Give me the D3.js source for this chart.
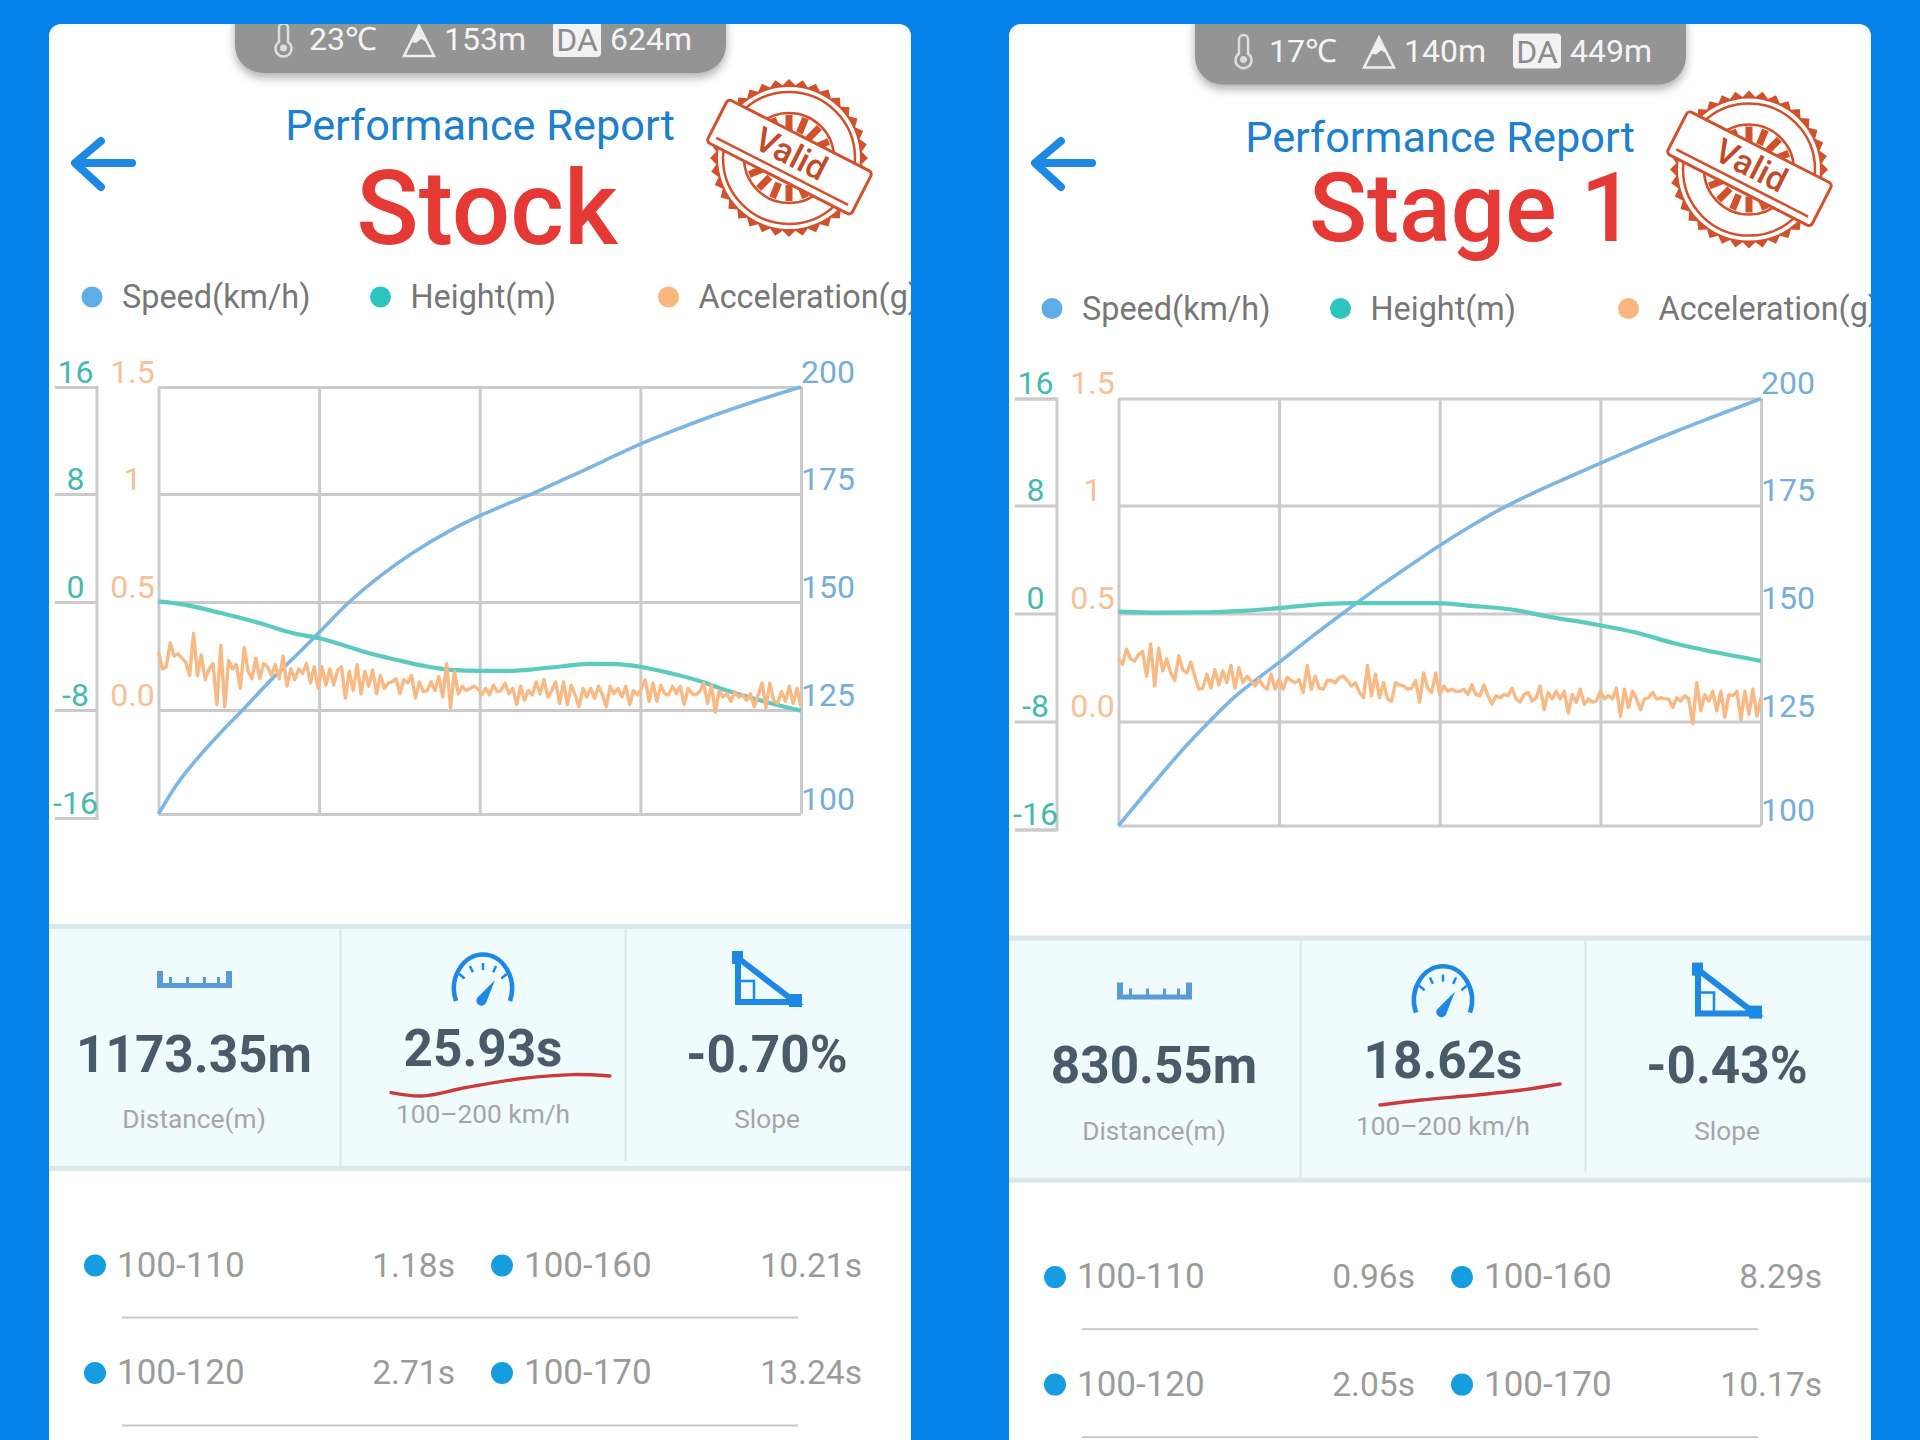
<!DOCTYPE html>
<html>
<head>
<meta charset="utf-8">
<script src="https://cdn.jsdelivr.net/npm/d3@7"></script>
<style>
  html, body { margin: 0; padding: 0; background: #0582ea; }
  svg { display: block; }
  text { font-family: Roboto, sans-serif; }
</style>
</head>
<body>
<script>
// tick values shared by both charts
var gridX = [0, 25, 50, 75, 100]
var speedTicks = [100, 125, 150, 175, 200]
var heightTicks = [-16, -8, 0, 8, 16]
var accelTicks = [0, 0.5, 1, 1.5]
var accelLabels = ['0.0', '0.5', '1', '1.5']
var legendNames = ['Speed(km/h)', 'Height(m)', 'Acceleration(g)']
var splitNames = ['100-110', '100-160', '100-120', '100-170']
var statNames = ['Distance(m)', '100–200 km/h', 'Slope']

// Stock run
var stockSpeedX = [0, 2.9, 6.3, 9.7, 13.1, 17.4, 21.7, 24.9, 29.4, 34.5, 39.6, 45.6, 49.8, 54.1, 58.4, 63.5, 68.6, 74.7, 80.5, 86.5, 92.5, 100]
var stockSpeed = [100, 107.2, 113.8, 119.6, 125, 131.8, 138, 142.8, 149.6, 156, 161.4, 166.7, 169.8, 172.6, 175.2, 178.7, 182.2, 186.5, 190, 193.4, 196.5, 200]
var stockHeightX = [0, 4.6, 9.7, 15.7, 20.8, 24.9, 29.4, 32.8, 37, 41.3, 45.6, 49.8, 54.1, 58.4, 62.6, 66.9, 71.2, 74.7, 79.7, 84, 88.2, 92.5, 95.9, 100]
var stockHeight = [0.05, -0.25, -0.82, -1.56, -2.3, -2.67, -3.3, -3.8, -4.28, -4.73, -5.03, -5.1, -5.1, -4.98, -4.78, -4.58, -4.6, -4.78, -5.28, -5.82, -6.51, -7.13, -7.58, -8.05]
var stockAccel = [
  .27, .19, .20, .31, .25, .26, .24, .22, .16, .355, .16, .255, .14, .19, .215, .025, .30, .015, .23, .19, .21,
  .10, .29, .18, .145, .24, .145, .215, .20, .16, .21, .145, .25, .11, .19, .14, .19, .17, .215, .125, .20, .10,
  .20, .115, .19, .115, .185, .20, .055, .18, .09, .21, .075, .18, .11, .185, .075, .16, .10, .125, .13, .145,
  .075, .14, .125, .16, .055, .13, .085, .09, .13, .09, .155, .06, .215, .01, .18, .075, .11, .09, .10, .11, .10, .07,
  .10, .07, .115, .085, .09, .125, .075, .10, .025, .11, .045, .09, .07, .13, .075, .14, .06, .09, .13, .03, .13,
  .025, .115, .07, .015, .10, .06, .10, .055, .11, .07, .015, .11, .075, .10, .06, .11, .025, .09, .07, .10,
  .14, .04, .125, .04, .115, .075, .07, .11, .075, .11, .025, .10, .075, .07, .085, .125, .03, .115, -.01, .09,
  .06, .075, .04, .085, .06, .07, .045, .075, .015, .07, .125, .01, .125, .045, .03, .085, .04, .11, .03, .10, .015
]
var stockStats = ['1173.35m', '25.93s', '-0.70%']
var stockSplits = ['1.18s', '10.21s', '2.71s', '13.24s']
var stockWeather = ['23℃', '153m', '624m']

// Stage 1 run
var stageSpeedX = [0, 3.75, 7.2, 10.6, 14, 18.3, 21.7, 24.9, 30.2, 35.3, 41.3, 46.4, 49.8, 55, 60, 65.2, 70.3, 74.7, 80.5, 86.5, 92.5, 100]
var stageSpeed = [100, 107, 113.3, 119.3, 124.8, 131, 135, 138.6, 144.8, 150.5, 157, 162.2, 165.6, 170.4, 174.6, 178.4, 181.8, 184.7, 188.5, 192.2, 195.7, 200]
var stageHeightX = [0, 6.3, 14, 20, 24.9, 30.2, 36.2, 43, 49.8, 55, 60.9, 66.9, 74.7, 80.5, 86.5, 92.5, 100]
var stageHeight = [0.15, 0.07, 0.1, 0.22, 0.4, 0.65, 0.77, 0.77, 0.77, 0.57, 0.32, -0.22, -0.84, -1.4, -2.2, -2.83, -3.5]
var stageAccel = [
  .29, .265, .335, .29, .28, .31, .325, .21, .36, .165, .34, .235, .29, .225, .19, .305, .24, .225, .275, .21, .15,
  .155, .22, .155, .24, .17, .235, .18, .26, .155, .25, .18, .21, .19, .165, .195, .165,
  .15, .22, .15, .195, .15, .205, .19, .18, .195, .135, .26, .15, .21, .155, .15, .19, .19, .18, .205, .21, .19,
  .165, .18, .135, .11, .26, .12, .22, .11, .18, .105, .095, .18, .17, .165, .15, .155, .19, .09, .225, .155, .135,
  .225, .125, .165, .14, .15, .14, .14, .15, .125, .17, .125, .12, .17, .12, .08, .12, .11, .125, .12, .155, .105,
  .09, .125, .135, .095, .11, .165, .055, .135, .105, .14, .105, .14, .04, .125, .09, .15, .08, .105, .09, .095,
  .14, .105, .12, .105, .155, .025, .15, .065, .14, .105, .055, .105, .11, .135, .105, .11, .105, .105, .065, .11,
  .095, .12, .105, -.01, .18, .05, .125, .095, .14, .05, .14, .02, .125, .12, .14, .01, .14, .035, .15, .025, .11
]
var stageStats = ['830.55m', '18.62s', '-0.43%']
var stageSplits = ['0.96s', '8.29s', '2.05s', '10.17s']
var stageWeather = ['17℃', '140m', '449m']

var BLUE = '#1e88e5'
var speedColor = '#7db5e3'
var heightColor = '#5ccabf'
var accelColor = '#f9b985'
var gridColor = '#cbcbcb'

var svg = d3.select('body')
            .append('svg')
            .attr('width', 1920)
            .attr('height', 1440)

svg.append('rect').attr('width', 1920).attr('height', 1440).attr('fill', '#0582ea')

// plot area is the same in both panels, the second one sits lower and to the right
var left = 158.5
var right = 801

var x = d3.scaleLinear().domain([0, 100]).range([left, right])
var speedY = d3.scaleLinear().domain(speedTicks).range([814, 710, 602, 494, 387])
var heightY = d3.scaleLinear().domain(heightTicks).range([818, 710, 602, 494, 387])
var accelY = d3.scaleLinear().domain(accelTicks).range([710, 602, 494, 387])

function styleAxisText (sel, color, tx, anchor) {
  sel.selectAll('text')
    .attr('x', tx)
    .attr('dy', -5)
    .attr('fill', color)
    .attr('text-anchor', anchor)
    .style('font-size', '32px')
    .style('font-family', 'Roboto, sans-serif')
}

function drawChart (g, run) {
  // grid
  g.append('g')
    .attr('transform', 'translate(0,814)')
    .call(d3.axisBottom(x).tickValues(gridX).tickSize(-427).tickFormat(''))
    .call(function (a) {
      a.selectAll('line, path').attr('stroke', gridColor).attr('stroke-width', 3)
      a.select('.domain').attr('stroke', 'none')
    })

  g.append('g')
    .attr('transform', 'translate(' + left + ',0)')
    .call(d3.axisLeft(speedY).tickValues(speedTicks).tickSize(left - right).tickFormat(''))
    .call(function (a) {
      a.selectAll('line').attr('stroke', gridColor).attr('stroke-width', 3)
      a.select('.domain').attr('stroke', 'none')
    })

  // height axis, far left with its own little ticks
  g.append('g')
    .attr('transform', 'translate(96.5,0)')
    .call(d3.axisLeft(heightY).tickValues(heightTicks).tickSize(41.5).tickPadding(0).tickFormat(function (d) { return d }))
    .call(function (a) {
      a.selectAll('line').attr('stroke', gridColor).attr('stroke-width', 3)
      a.select('.domain').attr('stroke', gridColor).attr('stroke-width', 3)
      styleAxisText(a, '#45b9ae', -21, 'middle')
    })

  g.append('g')
    .attr('transform', 'translate(' + left + ',0)')
    .call(d3.axisLeft(accelY).tickValues(accelTicks).tickSize(0).tickFormat(function (d, i) { return accelLabels[i] }))
    .call(function (a) {
      a.select('.domain').attr('stroke', 'none')
      styleAxisText(a, '#f6c195', -26, 'middle')
    })

  g.append('g')
    .attr('transform', 'translate(' + right + ',0)')
    .call(d3.axisRight(speedY).tickValues(speedTicks).tickSize(0))
    .call(function (a) {
      a.select('.domain').attr('stroke', 'none')
      styleAxisText(a, '#74aedb', 0, 'start')
    })

  // lines
  var speedLine = d3.line()
    .x(function (d, i) { return x(run.speedX[i]) })
    .y(function (d) { return speedY(d) })
    .curve(d3.curveMonotoneX)

  var heightLine = d3.line()
    .x(function (d, i) { return x(run.heightX[i]) })
    .y(function (d) { return heightY(d) })
    .curve(d3.curveMonotoneX)

  var accelX = d3.scaleLinear().domain([0, run.accel.length - 1]).range([left, right])
  var accelLine = d3.line()
    .x(function (d, i) { return accelX(i) })
    .y(function (d) { return accelY(d) })

  g.append('path').attr('d', speedLine(run.speed)).attr('fill', 'none').attr('stroke', speedColor).attr('stroke-width', 3.6)
  g.append('path').attr('d', heightLine(run.height)).attr('fill', 'none').attr('stroke', heightColor).attr('stroke-width', 4.2)
  g.append('path').attr('d', accelLine(run.accel)).attr('fill', 'none').attr('stroke', accelColor).attr('stroke-width', 3.4).attr('stroke-linejoin', 'round')
}

function drawStamp (g) {
  var c = '#d2512d'
  var s = g.append('g').attr('transform', 'translate(789,158)')
  // toothed edge
  var teeth = d3.range(0, 72).map(function (i) {
    return [i * Math.PI / 36, i % 2 ? 73 : 79]
  })
  s.append('path')
    .attr('d', d3.lineRadial().curve(d3.curveLinearClosed)(teeth))
    .attr('fill', c)
  s.append('circle').attr('r', 71).attr('fill', '#fff')
  s.append('circle').attr('r', 66).attr('fill', 'none').attr('stroke', c).attr('stroke-width', 2.5)
  s.append('circle').attr('r', 45).attr('fill', 'none').attr('stroke', c).attr('stroke-width', 2.5)
  // spokes inside the inner ring
  d3.range(0, 16).forEach(function (i) {
    var a = i * Math.PI / 8
    s.append('line')
      .attr('x1', Math.cos(a) * 27).attr('y1', Math.sin(a) * 27)
      .attr('x2', Math.cos(a) * 43).attr('y2', Math.sin(a) * 43)
      .attr('stroke', c).attr('stroke-width', 7)
  })
  var band = s.append('g').attr('transform', 'rotate(27)')
  band.append('rect')
    .attr('x', -81).attr('y', -25).attr('width', 162).attr('height', 48).attr('rx', 4)
    .attr('fill', '#fff').attr('stroke', c).attr('stroke-width', 3)
  band.append('line').attr('x1', -74).attr('x2', 74).attr('y1', 15).attr('y2', 15).attr('stroke', c).attr('stroke-width', 2.5)
  band.append('text')
    .attr('text-anchor', 'middle').attr('y', 7)
    .attr('fill', '#c14a2a')
    .style('font-size', '34px').style('font-weight', 500)
    .text('Valid')
}

function drawHeader (g, run) {
  // weather pill
  var pill = g.append('g')
  pill.append('rect')
    .attr('x', 235).attr('y', -20).attr('width', 491).attr('height', 93).attr('rx', 28)
    .attr('fill', '#949494')
    .style('filter', 'drop-shadow(0 5px 5px rgba(0,0,0,0.3))')

  // thermometer
  pill.append('path')
    .attr('d', 'M279 28 a4.5 4.5 0 0 1 9 0 v14 a8 8 0 1 1 -9 0 z')
    .attr('fill', 'none').attr('stroke', '#ddd').attr('stroke-width', 2.5)
  pill.append('circle').attr('cx', 283.5).attr('cy', 48).attr('r', 3.5).attr('fill', '#ddd')
  // mountain
  pill.append('path')
    .attr('d', 'M419 26 L434 56 H404 Z')
    .attr('fill', 'none').attr('stroke', '#eee').attr('stroke-width', 2.5)
  pill.append('path').attr('d', 'M419 26 L427 42 L421 39 L416 43 L411 42 Z').attr('fill', '#eee')
  pill.append('rect').attr('x', 553).attr('y', 22).attr('width', 48).attr('height', 35).attr('rx', 4).attr('fill', '#f2f2f2')
  pill.append('text').attr('x', 577).attr('y', 51).attr('text-anchor', 'middle').attr('fill', '#8d8d8d').style('font-size', '32px').text('DA')

  var weatherX = [309, 444, 610]
  pill.selectAll('.weather')
    .data(run.weather)
    .enter()
    .append('text')
    .classed('weather', true)
    .attr('x', function (d, i) { return weatherX[i] })
    .attr('y', 50)
    .attr('fill', '#f4f4f4')
    .style('font-size', '32px')
    .text(function (d) { return d })

  // back arrow, this one does not move with the rest of the panel
  g.append('path')
    .attr('transform', 'translate(0,' + (-run.dy) + ')')
    .attr('d', 'M132 163 H76 M101 141 L75 163 L101 187')
    .attr('fill', 'none').attr('stroke', BLUE).attr('stroke-width', 8).attr('stroke-linecap', 'round').attr('stroke-linejoin', 'round')

  g.append('text')
    .attr('x', 480).attr('y', 140)
    .attr('text-anchor', 'middle')
    .attr('fill', '#1c80cf')
    .style('font-size', '43.3px')
    .text('Performance Report')

  g.append('text')
    .attr('x', run.titleX).attr('y', run.titleY)
    .attr('text-anchor', 'middle')
    .attr('fill', '#e53935')
    .style('font-size', run.titleSize + 'px')
    .style('font-weight', 500)
    .text(run.title)

  drawStamp(g)

  // legend
  var legendDot = [92, 380.5, 668.5]
  var legendColor = ['#5dade9', '#2ec4c0', '#f9b77f']
  legendNames.forEach(function (name, i) {
    g.append('circle').attr('cx', legendDot[i]).attr('cy', 297).attr('r', 10.5).attr('fill', legendColor[i])
    g.append('text')
      .attr('x', legendDot[i] + 30).attr('y', 308)
      .attr('fill', '#777')
      .style('font-size', '32.4px')
      .text(name)
  })
}

function drawStats (g, run) {
  g.append('rect').attr('x', 40).attr('y', 924).attr('width', 880).attr('height', 245).attr('fill', '#effbfd')
  g.append('rect').attr('x', 40).attr('y', 924).attr('width', 880).attr('height', 5).attr('fill', '#dbe7e8')
  g.append('rect').attr('x', 40).attr('y', 1166).attr('width', 880).attr('height', 5).attr('fill', '#dbe7e8')
  g.append('rect').attr('x', 339.5).attr('y', 929).attr('width', 2).attr('height', 237).attr('fill', '#dbe7e8')
  g.append('rect').attr('x', 624.5).attr('y', 929).attr('width', 2).attr('height', 232).attr('fill', '#dbe7e8')

  var statX = [194, 483, 767]
  var valueY = [1071.5, 1066, 1071.5]
  var labelY = [1128, 1123, 1128]
  run.stats.forEach(function (v, i) {
    g.append('text')
      .attr('x', statX[i]).attr('y', valueY[i])
      .attr('text-anchor', 'middle')
      .attr('fill', '#4b5a69')
      .style('font-size', '51.3px').style('font-weight', 700)
      .text(v)
    g.append('text')
      .attr('x', statX[i]).attr('y', labelY[i])
      .attr('text-anchor', 'middle')
      .attr('fill', '#a6a6a6')
      .style('font-size', '26.3px')
      .text(statNames[i])
  })

  // ruler
  g.append('path')
    .attr('d', 'M157 971 h6 v12 h6 v-6 h3 v6 h14 v-6 h3 v6 h14 v-6 h3 v6 h11 v-6 h3 v6 h6 v-12 h6 v17 h-75 z')
    .attr('fill', '#5b9bd5')

  // gauge
  g.append('path')
    .attr('d', 'M456 1001 A29 34 0 1 1 510 1001')
    .attr('fill', 'none').attr('stroke', BLUE).attr('stroke-width', 4.5)
  g.selectAll('.gauge-tick')
    .data([-50, -25, 0, 25, 50])
    .enter()
    .append('line')
    .classed('gauge-tick', true)
    .attr('transform', function (d) { return 'translate(483,994) rotate(' + d + ')' })
    .attr('y1', -31).attr('y2', -24)
    .attr('stroke', BLUE).attr('stroke-width', 2.5)
  g.append('path').attr('d', 'M477 998 L495 980 L486 1003 A5 5 0 0 1 477 998 Z').attr('fill', BLUE)

  // slope
  g.append('path')
    .attr('d', 'M738 958 V1002 H795 Z')
    .attr('fill', 'none').attr('stroke', BLUE).attr('stroke-width', 6).attr('stroke-linejoin', 'miter')
  g.append('rect').attr('x', 732).attr('y', 951).attr('width', 11).attr('height', 13).attr('fill', BLUE)
  g.append('rect').attr('x', 789).attr('y', 994).attr('width', 13).attr('height', 13).attr('fill', BLUE)
  g.append('path').attr('d', 'M741 981 h13 v19').attr('fill', 'none').attr('stroke', BLUE).attr('stroke-width', 2.5)

  // hand drawn underline
  g.append('path')
    .attr('d', d3.line().curve(d3.curveCatmullRom)(run.underline))
    .attr('fill', 'none').attr('stroke', '#cc3a3c').attr('stroke-width', 3.4).attr('stroke-linecap', 'round')
}

function drawSplits (g, run) {
  var dotX = [95, 502, 95, 502]
  var rowDot = [1265.5, 1265.5, 1373, 1373]
  var rowBase = [1276.5, 1276.5, 1384, 1384]
  var endX = [455, 862, 455, 862]

  splitNames.forEach(function (name, i) {
    g.append('circle').attr('cx', dotX[i]).attr('cy', rowDot[i]).attr('r', 11).attr('fill', '#159ddf')
    g.append('text')
      .attr('x', dotX[i] + 22).attr('y', rowBase[i])
      .attr('fill', '#9b9b9b')
      .style('font-size', '35px')
      .text(name)
    g.append('text')
      .attr('x', endX[i]).attr('y', rowBase[i])
      .attr('text-anchor', 'end')
      .attr('fill', '#9b9b9b')
      .style('font-size', '33.6px')
      .text(run.splits[i])
  })

  g.append('rect').attr('x', 122).attr('y', 1316.5).attr('width', 676).attr('height', 2).attr('fill', '#c9c9c9')
  g.append('rect').attr('x', 122).attr('y', 1424.5).attr('width', 676).attr('height', 2).attr('fill', '#c9c9c9')
}

var runs = [
  {
    cardX: 49, dx: 0, dy: 0,
    title: 'Stock', titleX: 487, titleY: 244, titleSize: 103,
    weather: stockWeather, stats: stockStats, splits: stockSplits,
    speedX: stockSpeedX, speed: stockSpeed, heightX: stockHeightX, height: stockHeight, accel: stockAccel,
    underline: [[391, 1092.6], [422, 1096], [466, 1087.5], [523, 1078.4], [573, 1074.6], [610, 1076]]
  },
  {
    cardX: 1009, dx: 960, dy: 11.6,
    title: 'Stage 1', titleX: 512, titleY: 229.5, titleSize: 96,
    weather: stageWeather, stats: stageStats, splits: stageSplits,
    speedX: stageSpeedX, speed: stageSpeed, heightX: stageHeightX, height: stageHeight, accel: stageAccel,
    underline: [[420, 1093.4], [461, 1088.4], [517, 1083.4], [562, 1078.4], [600, 1072.4]]
  }
]

runs.forEach(function (run, i) {
  // card, everything in it gets cut off at its edge
  svg.append('clipPath')
    .attr('id', 'card' + i)
    .append('rect')
    .attr('x', run.cardX).attr('y', 24).attr('width', 862).attr('height', 1440).attr('rx', 12)

  svg.append('rect')
    .attr('x', run.cardX).attr('y', 24).attr('width', 862).attr('height', 1440).attr('rx', 12)
    .attr('fill', '#fff')

  var g = svg.append('g')
    .attr('clip-path', 'url(#card' + i + ')')
    .append('g')
    .attr('transform', 'translate(' + run.dx + ',' + run.dy + ')')

  drawHeader(g, run)
  drawChart(g, run)
  drawStats(g, run)
  drawSplits(g, run)
})
</script>
</body>
</html>
